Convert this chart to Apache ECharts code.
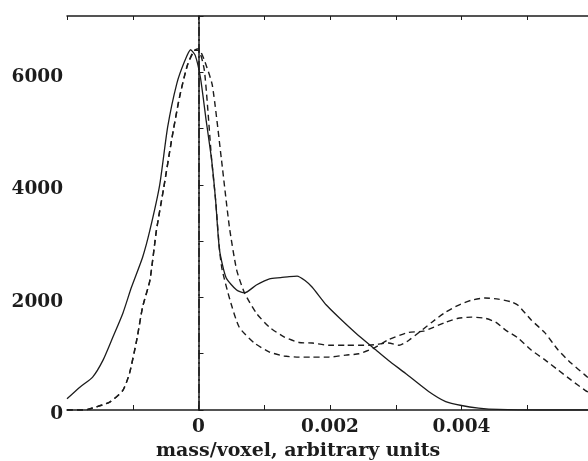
<!DOCTYPE html>
<html>
<head>
<meta charset="utf-8">
<script src="https://cdn.jsdelivr.net/npm/echarts@6/dist/echarts.min.js"></script>
<style>
html,body{margin:0;padding:0;background:#fff;}
#massChart{width:588px;height:461px;}
</style>
</head>
<body>
<div id="massChart"></div>
<script>
// solid curve
var solidX=[-0.0020,-0.0018,-0.00161,-0.00145,-0.0013,-0.00115,-0.00102,-0.00085,-0.00074,-0.00059,-0.00047,-0.00033,-0.00021,-0.00012,-0.00005,0.00003,0.00011,0.0002,0.00026,0.00032,0.00042,0.00058,0.0007,0.00088,0.00108,0.00125,0.00138,0.0015,0.00162,0.00173,0.00194,0.00214,0.00239,0.0027,0.00289,0.00315,0.0035,0.00376,0.004,0.00426,0.00456,0.0052,0.006];
var solidY=[200,410,585,890,1300,1720,2180,2715,3190,4000,5020,5800,6200,6400,6300,5900,5200,4440,3730,2840,2350,2130,2080,2220,2330,2350,2370,2380,2300,2180,1870,1640,1370,1065,880,650,330,150,80,35,10,0,0];
// dashed curve, upper plateau
var dashAX=[-0.0020,-0.00173,-0.00161,-0.00135,-0.00115,-0.00105,-0.00094,-0.00085,-0.00074,-0.00064,-0.00053,-0.00041,-0.00029,-0.00017,-0.00006,0,0.00009,0.00021,0.00035,0.00047,0.00058,0.0007,0.00088,0.00108,0.0013,0.00153,0.00173,0.00198,0.00224,0.00259,0.00289,0.00305,0.0032,0.00355,0.00376,0.00395,0.00415,0.00436,0.00456,0.00476,0.00486,0.00506,0.00527,0.00547,0.00567,0.00588,0.006];
var dashAY=[0,0,35,140,350,650,1240,1830,2300,3190,3940,4790,5550,6120,6390,6420,6210,5770,4440,3250,2490,2080,1720,1470,1300,1200,1190,1150,1150,1150,1190,1150,1240,1560,1740,1860,1950,1990,1970,1920,1860,1600,1370,1065,830,620,500];
// dashed curve, lower plateau
var dashBX=[-0.0020,-0.00173,-0.00161,-0.00135,-0.00115,-0.00105,-0.00094,-0.00085,-0.00074,-0.00064,-0.00053,-0.00041,-0.00029,-0.00017,-0.00006,0,0.00009,0.0002,0.00026,0.00032,0.00036,0.00048,0.00062,0.00085,0.00108,0.0013,0.00153,0.00173,0.00198,0.00224,0.00244,0.00267,0.00289,0.0032,0.00342,0.00376,0.00395,0.00415,0.00436,0.00452,0.00467,0.00486,0.00506,0.00527,0.00547,0.00567,0.00588,0.006];
var dashBY=[0,0,35,140,350,650,1240,1830,2300,3190,3940,4790,5550,6120,6390,6390,6030,4440,3730,2840,2490,1950,1470,1190,1030,960,940,940,940,975,1000,1100,1250,1380,1400,1560,1630,1650,1630,1560,1420,1280,1065,890,710,530,350,270];

function pairs(xs,ys){
	var out=[];
	for(var i=0;i<xs.length;i++){
		out.push([xs[i],ys[i]]);
	}
	return out;
}

var ink='#1c1c1c';
var labelFont={color:ink,fontFamily:'DejaVu Serif',fontWeight:'bold',fontSize:18.5};

var myChart=echarts.init(document.getElementById('massChart'));
var option={
	animation:false,
	backgroundColor:'#fff',
	grid:{left:67,right:-5,top:16,bottom:51,outerBoundsMode:'none'},
	xAxis:[{
		type:'value',
		min:-0.002,
		max:0.006,
		interval:0.001,
		position:'bottom',
		axisLine:{show:true,onZero:false,lineStyle:{color:ink,width:1.5}},
		axisTick:{show:true,inside:true,length:5,lineStyle:{color:ink,width:1}},
		splitLine:{show:false},
		axisLabel:Object.assign({
			margin:8,
			showMinLabel:false,
			showMaxLabel:false,
			formatter:function(v){
				var r=Math.round(v*10000)/10000;
				if(r===0) return '0';
				if(r===0.002) return '0.002';
				if(r===0.004) return '0.004';
				return '';
			}
		},labelFont),
		name:'mass/voxel, arbitrary units',
		nameLocation:'middle',
		nameGap:32,
		nameTextStyle:{color:ink,fontFamily:'DejaVu Serif',fontWeight:'bold',fontSize:19,padding:[0,64,0,0]}
	},{
		type:'value',
		min:-0.002,
		max:0.006,
		interval:0.001,
		position:'top',
		axisLine:{show:true,onZero:false,lineStyle:{color:ink,width:1.5}},
		axisTick:{show:true,inside:true,length:4,lineStyle:{color:ink,width:1}},
		axisLabel:{show:false},
		splitLine:{show:false}
	}],
	yAxis:{
		type:'value',
		min:0,
		max:7000,
		interval:1000,
		axisLine:{show:true,lineStyle:{color:ink,width:1.5}},
		axisTick:{show:true,inside:true,length:5,lineStyle:{color:ink,width:1}},
		splitLine:{show:false},
		axisLabel:Object.assign({
			margin:4,
			verticalAlign:'top',
			lineHeight:9,
			formatter:function(v){
				return (v%2000===0&&v<7000)?String(v):'';
			}
		},labelFont)
	},
	series:[{
		type:'line',
		name:'solid',
		data:pairs(solidX,solidY),
		showSymbol:false,
		smooth:0.2,
		lineStyle:{color:ink,width:1.3,type:'solid'},
		markLine:{
			silent:true,
			symbol:'none',
			label:{show:false},
			lineStyle:{color:ink,width:1.5,type:[9,3,2,3]},
			data:[{xAxis:0}]
		}
	},{
		type:'line',
		name:'dashA',
		data:pairs(dashAX,dashAY),
		showSymbol:false,
		smooth:0.2,
		lineStyle:{color:ink,width:1.4,type:[6,4]}
	},{
		type:'line',
		name:'dashB',
		data:pairs(dashBX,dashBY),
		showSymbol:false,
		smooth:0.2,
		lineStyle:{color:ink,width:1.4,type:[6,4]}
	}]
};
myChart.setOption(option);
</script>
</body>
</html>
